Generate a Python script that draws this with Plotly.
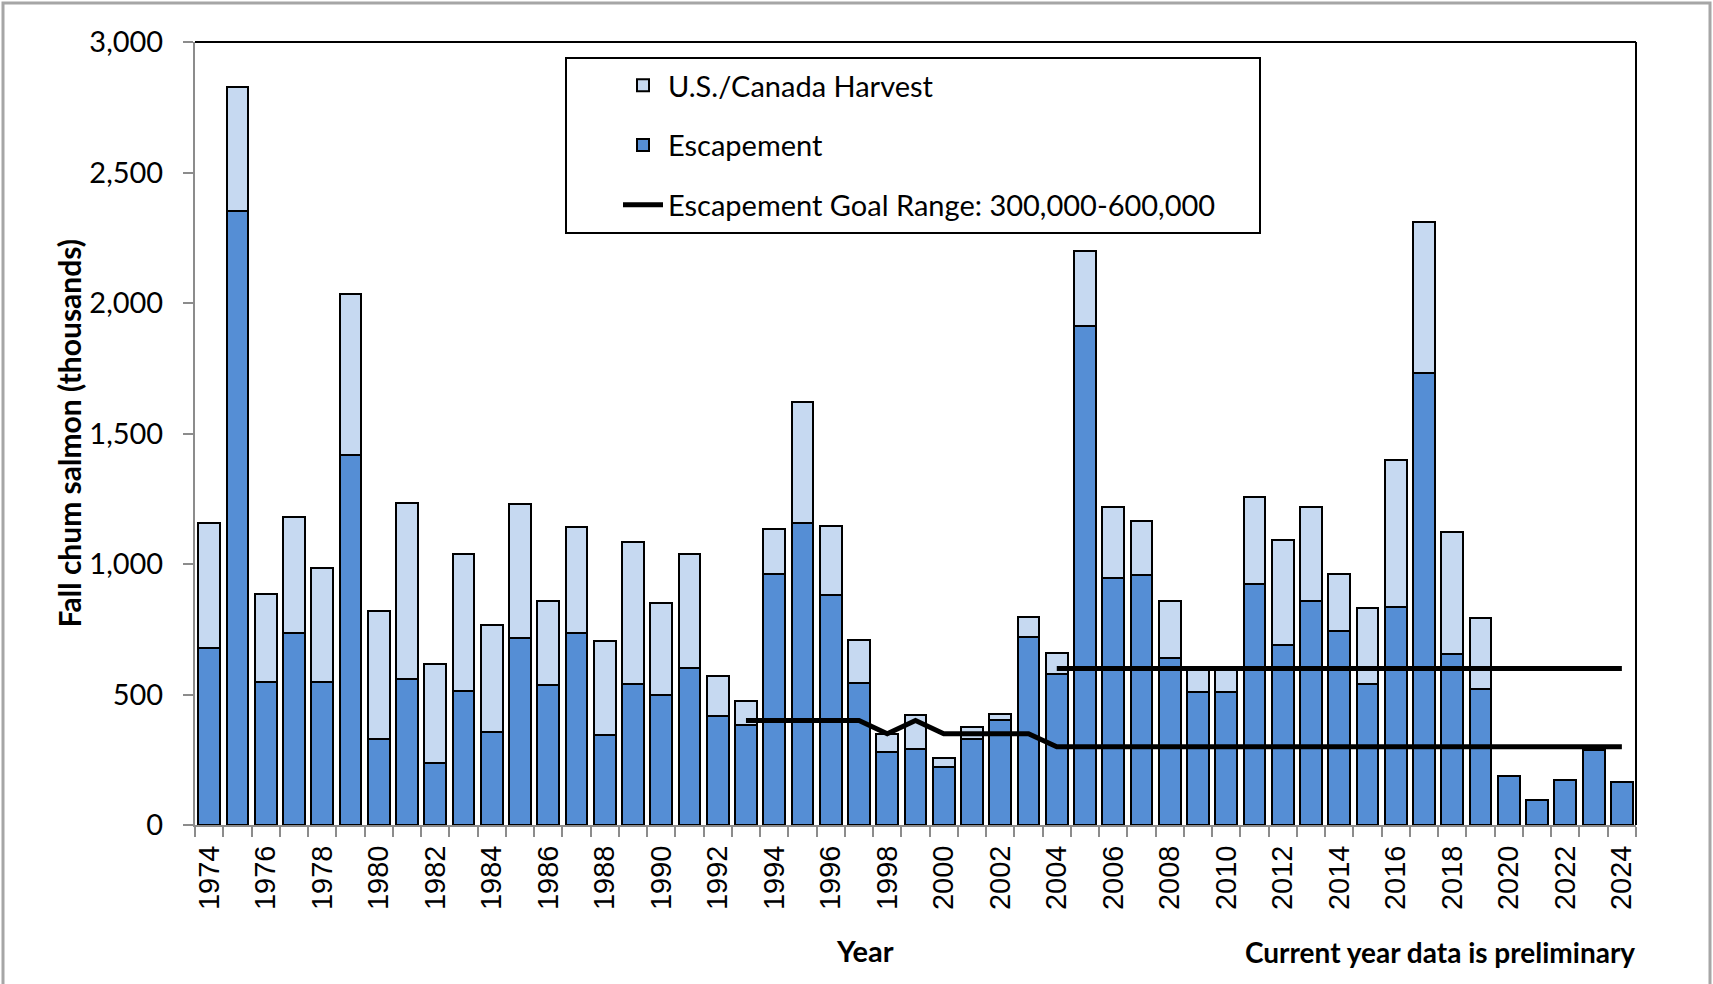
import plotly.graph_objects as go

years = list(range(1974, 2025))

escapement = [680, 2352, 548, 734, 548, 1416, 331, 558, 238, 513,
              356, 715, 538, 734, 346, 541, 499, 600, 416, 383,
              961, 1159, 881, 543, 280, 291, 223, 329, 403, 719,
              578, 1910, 947, 958, 641, 510, 510, 924, 688, 860,
              742, 542, 837, 1730, 657, 523, 186, 94, 173, 288, 163]

harvest = [479, 476, 337, 447, 436, 617, 490, 676, 378, 524,
           412, 513, 319, 408, 359, 545, 351, 437, 153, 93,
           173, 460, 265, 165, 69, 129, 32, 45, 24, 78,
           80, 290, 273, 207, 216, 85, 83, 331, 405, 360,
           218, 288, 562, 580, 464, 271, 0, 0, 0, 0, 0]

goal_lower = [None] * 19 + [400, 400, 400, 400, 400, 350, 400, 350, 350, 350, 350] + [300] * 21
goal_upper = [None] * 30 + [600] * 21

tick_labels = [y for y in years if y % 2 == 0]

C_ESC = "#558ED5"
C_HARV = "#C6D9F1"
GRAY = "#8C8C8C"
CAL = "Lato, 'Open Sans', sans-serif"
FS = 29

fig = go.Figure()
fig.add_trace(go.Bar(x=years, y=escapement, name="Escapement",
                     marker=dict(color=C_ESC, line=dict(color="black", width=2)),
                     legendrank=2, legendgroup="b"))
fig.add_trace(go.Bar(x=years, y=harvest, name="U.S./Canada Harvest",
                     marker=dict(color=C_HARV, line=dict(color="black", width=2)),
                     legendrank=1, legendgroup="a"))
fig.add_trace(go.Scatter(x=years, y=goal_lower, mode="lines",
                         name="Escapement Goal Range: 300,000-600,000",
                         line=dict(color="black", width=5),
                         legendrank=3, legendgroup="c"))
fig.add_trace(go.Scatter(x=years, y=goal_upper, mode="lines", showlegend=False,
                         line=dict(color="black", width=5), legendgroup="c"))

W, H = 1713, 984
L, R, T, B = 195, 77, 42, 159
pw, ph = W - L - R, H - T - B

def px(xp):
    return (xp - L) / pw

def py(yp):
    return (H - B - yp) / ph

boundaries = [y - 0.5 for y in years] + [years[-1] + 0.5]

fig.update_layout(
    width=W, height=H,
    margin=dict(l=L, r=R, t=T, b=B, pad=0),
    barmode="stack", bargap=0.23,
    plot_bgcolor="white", paper_bgcolor="white",
    font=dict(family=CAL, size=FS, color="black"),
    legend=dict(x=px(618), y=py(60), xanchor="left", yanchor="top",
                bgcolor="rgba(0,0,0,0)", borderwidth=0,
                font=dict(family=CAL, size=FS, color="black"),
                tracegroupgap=19, itemwidth=40),
    xaxis=dict(range=[years[0] - 0.5, years[-1] + 0.5],
               tickmode="array", tickvals=tick_labels,
               ticktext=[str(t) for t in tick_labels],
               tickangle=-90, ticks="",
               tickfont=dict(family="'Liberation Sans', Arial, sans-serif", size=29, color="black"),
               ticklabelstandoff=7,
               showline=True, linecolor=GRAY, linewidth=2,
               showgrid=False, zeroline=False,
               minor=dict(tickmode="array", tickvals=boundaries, ticks="outside",
                          ticklen=10, tickwidth=2, tickcolor=GRAY, showgrid=False)),
    yaxis=dict(range=[0, 3000], tickmode="linear", tick0=0, dtick=500,
               tickformat=",", ticks="outside", ticklen=10, tickwidth=2,
               tickcolor=GRAY, showline=True, linecolor=GRAY, linewidth=2,
               showgrid=False, zeroline=False, ticklabelstandoff=14,
               tickfont=dict(family=CAL, size=FS, color="black")),
    shapes=[
        dict(type="line", xref="paper", yref="paper", x0=0, x1=1, y0=1, y1=1,
             line=dict(color="black", width=2)),
        dict(type="line", xref="paper", yref="paper", x0=1, x1=1, y0=0, y1=1,
             line=dict(color="black", width=2)),
        dict(type="rect", xref="paper", yref="paper",
             x0=px(566), x1=px(1260), y0=py(233), y1=py(58),
             line=dict(color="black", width=2)),
        dict(type="rect", xref="paper", yref="paper",
             x0=px(3), x1=px(1710), y0=py(990), y1=py(3),
             line=dict(color="#A6A6A6", width=3)),
    ],
    annotations=[
        dict(text="<b>Fall chum salmon (thousands)</b>", xref="paper", yref="paper",
             x=px(68), y=0.5, textangle=-90, showarrow=False,
             xanchor="center", yanchor="middle",
             font=dict(family=CAL, size=30, color="black")),
        dict(text="<b>Year</b>", xref="paper", yref="paper",
             x=px(865), y=py(950), showarrow=False,
             xanchor="center", yanchor="middle",
             font=dict(family=CAL, size=FS, color="black")),
        dict(text="<b>Current year data is preliminary</b>", xref="paper", yref="paper",
             x=px(1637), y=py(952), showarrow=False,
             xanchor="right", yanchor="middle",
             font=dict(family=CAL, size=FS - 1, color="black")),
    ],
)

fig.write_html("out.html", config={"displayModeBar": False},
               post_script="document.body.style.margin='0';document.body.style.overflow='hidden';")
